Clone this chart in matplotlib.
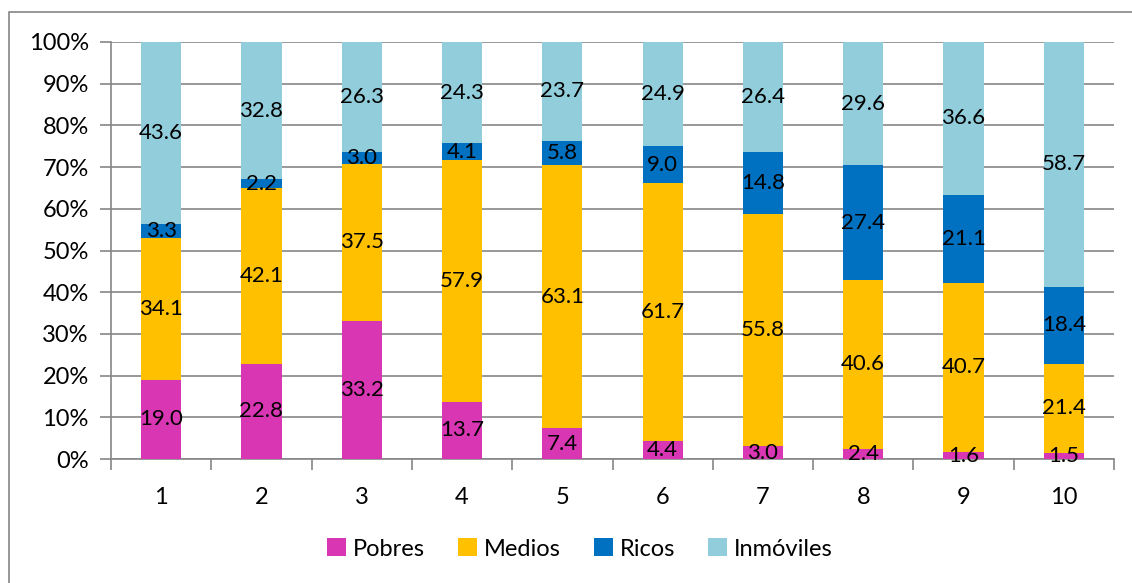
import matplotlib.pyplot as plt
from matplotlib.patches import Rectangle
import numpy as np

categories = ["1", "2", "3", "4", "5", "6", "7", "8", "9", "10"]
pobres = [19.0, 22.8, 33.2, 13.7, 7.4, 4.4, 3.0, 2.4, 1.6, 1.5]
medios = [34.1, 42.1, 37.5, 57.9, 63.1, 61.7, 55.8, 40.6, 40.7, 21.4]
ricos = [3.3, 2.2, 3.0, 4.1, 5.8, 9.0, 14.8, 27.4, 21.1, 18.4]
inmoviles = [43.6, 32.8, 26.3, 24.3, 23.7, 24.9, 26.4, 29.6, 36.6, 58.7]
series_names = ["Pobres", "Medios", "Ricos", "Inmóviles"]
colors = ["#D936B4", "#FFC000", "#0070C0", "#92CDDC"]

plt.rcParams['font.family'] = ['Lato', 'DejaVu Sans']

W, H = 1132, 583
fig = plt.figure(figsize=(W / 100, H / 100), dpi=100)
# outer frame
fig.patches.append(Rectangle((9 / W, -0.01), 1.1, 1 - 12 / H + 0.01, transform=fig.transFigure,
                             fill=False, edgecolor="#868686", linewidth=1.2))

ax = fig.add_axes([111 / W, 1 - 459 / H, (1114 - 111) / W, (459 - 42) / H])
x = np.arange(len(categories))
bottom = np.zeros(len(categories))
for name, vals, c in zip(series_names, [pobres, medios, ricos, inmoviles], colors):
    vals = np.array(vals)
    ax.bar(x, vals, 0.4, bottom=bottom, color=c, label=name, zorder=3)
    for xi, b, v in zip(x, bottom, vals):
        ax.text(xi, b + v / 2, f"{v:.1f}", ha="center", va="center", fontsize=16, zorder=4)
    bottom += vals

ax.set_xlim(-0.5, len(categories) - 0.5)
ax.set_ylim(0, 100)
ax.set_yticks(np.arange(0, 101, 10))
ax.set_yticklabels([f"{v}%" for v in range(0, 101, 10)], fontsize=17)
ax.yaxis.grid(True, color="#868686", linewidth=1.2, zorder=0)
ax.set_xticks(x)
ax.set_xticklabels(categories, fontsize=17)
ax.set_xticks(np.arange(-0.5, len(categories), 1), minor=True)
ax.tick_params(axis="x", which="major", length=0, pad=20)
ax.tick_params(axis="x", which="minor", length=8, color="#868686", width=1.2)
ax.tick_params(axis="y", length=8, color="#868686", width=1.2, pad=8)
for s in ["top", "right"]:
    ax.spines[s].set_visible(False)
for s in ["left", "bottom"]:
    ax.spines[s].set_color("#868686")
    ax.spines[s].set_linewidth(1.2)

fig.legend(loc="center", bbox_to_anchor=(580 / W, 1 - 549 / H), ncol=4, frameon=False,
           fontsize=17, handlelength=0.8, handleheight=0.8, handletextpad=0.3,
           columnspacing=1.4)

fig.savefig("out.png", dpi=100)
